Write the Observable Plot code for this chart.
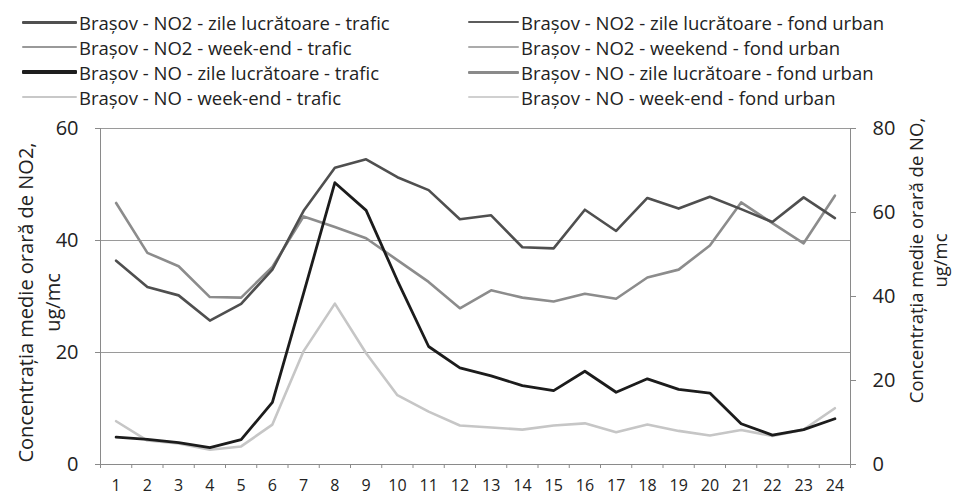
<!DOCTYPE html>
<html><head><meta charset="utf-8">
<script src="https://cdn.jsdelivr.net/npm/d3@7"></script>
<script src="https://cdn.jsdelivr.net/npm/@observablehq/plot@0.6"></script>
<style>
body{margin:0;background:#fff;font-family:"Open Sans",sans-serif;color:#222}
#legend{position:relative;width:954px;height:108px}
.item{position:absolute;height:22px;display:flex;align-items:center;font-size:18.5px;white-space:nowrap;color:#222}
.sw{display:inline-block;margin-right:2px;border-radius:1px}
#chart svg{display:block}
</style></head><body>
<div id="legend"></div>
<div id="chart"></div>
<script>
// ---- data ----
const hours = [1,2,3,4,5,6,7,8,9,10,11,12,13,14,15,16,17,18,19,20,21,22,23,24];
// NO2 (left axis, ug/mc)
const no2ZileTrafic = [36.4,31.7,30.2,25.7,28.7,34.8,45.3,53.0,54.5,51.3,49.0,43.8,44.5,38.8,38.6,45.5,41.7,47.6,45.7,47.8,45.6,43.3,47.7,44.0];
const no2WeekendTrafic = [46.7,37.8,35.4,29.9,29.8,35.3,44.3,42.4,40.4,36.5,32.6,27.9,31.1,29.8,29.1,30.5,29.6,33.4,34.8,39.1,46.8,43.1,39.5,48.0];
// NO (right axis, ug/mc)
const noZileTrafic = [6.5,6.0,5.2,4.0,5.9,14.8,40.8,67.1,60.5,43.8,28.1,23.0,21.1,18.8,17.6,22.2,17.2,20.4,17.9,17.0,9.7,7.0,8.3,10.9];
const noWeekendTrafic = [10.3,5.7,5.0,3.5,4.3,9.5,27.0,38.3,26.5,16.5,12.6,9.3,8.8,8.3,9.3,9.8,7.7,9.5,8.0,6.9,8.2,6.8,8.3,13.4];

const legendNames = [
  "Brașov - NO2 - zile lucrătoare - trafic",
  "Brașov - NO2 - week-end - trafic",
  "Brașov - NO - zile lucrătoare - trafic",
  "Brașov - NO - week-end - trafic",
  "Brașov - NO2 - zile lucrătoare - fond urban",
  "Brașov - NO2 - weekend - fond urban",
  "Brașov - NO - zile lucrătoare - fond urban",
  "Brașov - NO - week-end - fond urban"
];
const legendColors = ["#505050","#999999","#1e1e1e","#c8c8c8","#5c5c5c","#ababab","#8a8a8a","#d0d0d0"];
const legendWidths = [3,2.5,3.5,2,2.5,2.5,3,2];

const leftTicks = [0,20,40,60];
const rightTicks = [0,20,40,60,80];
const gridTicks = [20,40,60];
const leftTitle = "Concentrația medie orară de NO2,\nug/mc";
const rightTitle = "Concentrația medie orară de NO,\nug/mc";

// ---- legend ----
const legend = document.getElementById("legend");
const rowY = [11, 36, 61, 86];
legendNames.forEach((name, i) => {
  const col = i < 4 ? 0 : 1, row = i % 4;
  const el = document.createElement("div");
  el.className = "item";
  el.style.left = (col === 0 ? 22 : 468) + "px";
  el.style.top = rowY[row] + "px";
  const sw = document.createElement("span");
  sw.className = "sw";
  sw.style.width = (col === 0 ? 55 : 51) + "px";
  sw.style.height = legendWidths[i] + "px";
  sw.style.background = legendColors[i];
  el.appendChild(sw);
  const t = document.createElement("span");
  t.textContent = name;
  el.appendChild(t);
  legend.appendChild(el);
});

// ---- chart ----
const k = 60 / 80; // right axis (NO) to left axis (NO2) units
const toRows = arr => hours.map((h, i) => ({hour: h, v: arr[i]}));
const boundaries = d3.range(0, 25).map(i => i + 0.5);

const chart = Plot.plot({
  width: 954, height: 396,
  marginLeft: 100, marginRight: 104, marginTop: 20, marginBottom: 40,
  style: {fontFamily: "Open Sans, sans-serif", color: "#222", background: "white"},
  x: {domain: [0.5, 24.5]},
  y: {domain: [0, 60]},
  marks: [
    Plot.ruleY(gridTicks, {stroke: "#9a9a9a", strokeWidth: 1}),
    Plot.ruleX([0.5], {stroke: "#8a8a8a"}),
    Plot.ruleX([24.5], {stroke: "#8a8a8a"}),
    Plot.ruleY([0], {stroke: "#8a8a8a"}),
    Plot.axisY(leftTicks, {anchor: "left", tickSize: 5, tickPadding: 17, fontSize: 20, label: null, stroke: "#8a8a8a"}),
    Plot.axisY(rightTicks.map(v => v * k), {anchor: "right", tickSize: 5, tickPadding: 17, fontSize: 20, label: null, tickFormat: d => Math.round(d / k), stroke: "#8a8a8a"}),
    Plot.axisX(hours, {anchor: "bottom", tickSize: 0, tickPadding: 15, fontSize: 16, label: null}),
    Plot.axisX(boundaries, {anchor: "bottom", tickSize: 4, tickFormat: () => "", label: null, stroke: "#8a8a8a"}),
    Plot.line(toRows(no2WeekendTrafic), {x: "hour", y: "v", stroke: "#8c8c8c", strokeWidth: 2.6}),
    Plot.line(toRows(no2ZileTrafic), {x: "hour", y: "v", stroke: "#4f4f4f", strokeWidth: 2.6}),
    Plot.line(toRows(noWeekendTrafic), {x: "hour", y: d => d.v * k, stroke: "#c6c6c6", strokeWidth: 2.6}),
    Plot.line(toRows(noZileTrafic), {x: "hour", y: d => d.v * k, stroke: "#1c1c1c", strokeWidth: 2.8}),
    Plot.text([leftTitle], {frameAnchor: "left", rotate: -90, dx: -62.5, dy: 6, fontSize: 20, lineHeight: 1.35, fill: "#222", textAnchor: "middle", lineAnchor: "middle"}),
    Plot.text([rightTitle], {frameAnchor: "right", rotate: -90, dx: 77, dy: -36, fontSize: 18.5, lineHeight: 1.3, fill: "#222", textAnchor: "middle", lineAnchor: "middle"})
  ]
});
document.getElementById("chart").appendChild(chart);
</script>
</body></html>
